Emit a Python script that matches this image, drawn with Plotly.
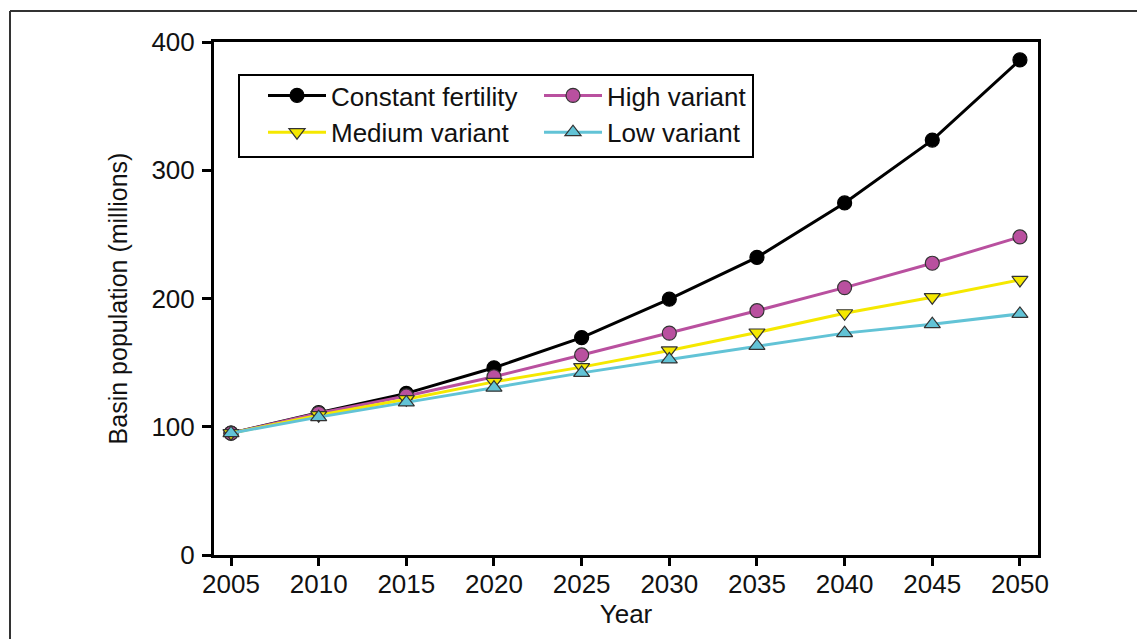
import plotly.graph_objects as go

years = [2005, 2010, 2015, 2020, 2025, 2030, 2035, 2040, 2045, 2050]
constant_fertility = [95, 111, 126, 146, 169.5, 199.5, 232, 274.5, 323.5, 386]
high_variant = [95, 110.5, 124, 139, 156, 173, 190.5, 208.5, 227.5, 248]
medium_variant = [95, 109, 121.5, 135, 146.5, 159.5, 173.5, 188.5, 201, 214.5]
low_variant = [95, 107.5, 119, 130.5, 142, 152.5, 163, 173, 180, 188]

y_ticks = [0, 100, 200, 300, 400]
x_ticks = years

series = [
    ("Constant fertility", constant_fertility, "#000000", "circle", "#000000", "legend"),
    ("High variant", high_variant, "#B9509F", "circle", "#333333", "legend2"),
    ("Medium variant", medium_variant, "#F5E800", "triangle-down", "#333333", "legend"),
    ("Low variant", low_variant, "#62C3D6", "triangle-up", "#333333", "legend2"),
]

FONT = "Liberation Sans, Arial, sans-serif"

fig = go.Figure()
for name, vals, color, sym, outline, leg in series:
    fig.add_trace(go.Scatter(
        x=years, y=vals, name=name, mode="lines+markers",
        line=dict(color=color, width=3),
        marker=dict(symbol=sym, size=14, color=color,
                    line=dict(color=outline, width=1.2)),
        legend=leg,
    ))

# page has an 8px body margin; figure sits at page (8, 8)
OFF = 8
PAGE_W, PAGE_H = 1145, 639
W, H = PAGE_W - OFF, PAGE_H - OFF
PL, PT, PR, PB = 214, 42, 1038, 555   # plot area in page pixels
L, T, R, B = PL - OFF, PT - OFF, PAGE_W - PR, PAGE_H - PB
pw = PR - PL
ph = PB - PT

def px_x(x):
    return (x - PL) / pw

def px_y(y):
    return 1 - (y - PT) / ph

# outer frame (left and top edges visible)
fig.add_shape(type="line", xref="paper", yref="paper",
              x0=px_x(10), x1=px_x(10), y0=px_y(PAGE_H + 20), y1=px_y(11),
              line=dict(color="#333333", width=2))
fig.add_shape(type="line", xref="paper", yref="paper",
              x0=px_x(10), x1=px_x(PAGE_W + 20), y0=px_y(11), y1=px_y(11),
              line=dict(color="#333333", width=2))
# legend box
fig.add_shape(type="rect", xref="paper", yref="paper",
              x0=px_x(239), x1=px_x(753), y0=px_y(157), y1=px_y(75),
              line=dict(color="black", width=2), fillcolor="rgba(0,0,0,0)")

leg_common = dict(
    orientation="v", xanchor="left", yanchor="top",
    bgcolor="rgba(0,0,0,0)", borderwidth=0,
    font=dict(family=FONT, size=26, color="#111111"),
    itemwidth=58, tracegroupgap=0,
)

fig.update_layout(
    width=W, height=H,
    margin=dict(l=L, r=R, t=T, b=B),
    paper_bgcolor="white", plot_bgcolor="white",
    font=dict(family=FONT, size=26, color="#111111"),
    showlegend=True,
    legend=dict(x=px_x(263), y=px_y(72), **leg_common),
    legend2=dict(x=px_x(539), y=px_y(72), **leg_common),
    xaxis=dict(
        range=[2004.03, 2051.03], tickvals=x_ticks,
        ticktext=[str(v) for v in x_ticks],
        showline=True, linewidth=3, linecolor="black", mirror=True,
        ticks="outside", ticklen=8, tickwidth=3, tickcolor="black",
        showgrid=False, zeroline=False,
        tickfont=dict(family=FONT, size=26),
        ticklabelstandoff=-4,
        title=dict(text="Year", font=dict(family=FONT, size=26), standoff=6),
    ),
    yaxis=dict(
        range=[0, 400], tickvals=y_ticks,
        showline=True, linewidth=3, linecolor="black", mirror=True,
        ticks="outside", ticklen=9, tickwidth=3, tickcolor="black",
        showgrid=False, zeroline=False,
        tickfont=dict(family=FONT, size=26),
        ticklabelstandoff=2,
        title=dict(text="Basin population (millions)",
                   font=dict(family=FONT, size=25), standoff=17),
    ),
)

fig.write_html("out.html")
